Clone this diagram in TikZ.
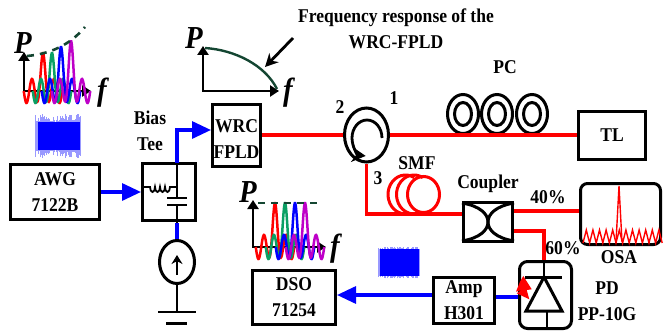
\documentclass[tikz,border=0pt]{standalone}
\usepackage{fontspec}
\setmainfont[FakeStretch=0.9]{Liberation Serif}
\usepackage{xcolor}
\usepackage{tikz}
\usetikzlibrary{arrows.meta,positioning,shapes.geometric}

\definecolor{wavegreen}{RGB}{10,160,100}
\definecolor{wavepurple}{RGB}{190,0,200}
\definecolor{envgreen}{RGB}{20,70,50}

\begin{document}
\begin{tikzpicture}[
  x=1pt, y=1pt,
  box/.style={draw, line width=3pt, align=center, inner sep=0pt,
    font=\fontsize{19.5}{26}\selectfont\bfseries},
  lbl/.style={align=center, inner sep=0pt, font=\fontsize{19.5}{26}\selectfont\bfseries},
  varlbl/.style={inner sep=0pt, font=\fontsize{32}{32}\selectfont\bfseries\itshape},
  ring/.style={draw, ellipse, line width=3pt, inner sep=0pt},
  sig/.style={draw=blue, line width=3.2pt},
  sigarrow/.style={sig, -{Triangle[length=19pt,width=17pt]}},
  fibre/.style={draw=red, line width=3.2pt},
  wire/.style={line width=1.8pt},
  axis/.style={line width=2.6pt, {Triangle[length=9pt,width=11pt]}-{Triangle[length=9pt,width=11pt]}},
  wave/.style={line width=2.5pt, smooth, samples=90, variable=\t, domain=-19.25:19.25},
  envelope/.style={envgreen, line width=2.6pt, dash pattern=on 7pt off 6pt}
]
\useasboundingbox (0,0) rectangle (663,330);

% Transmit side
\node[box, minimum width=89pt, minimum height=55pt] (awg) at (55,138) {AWG\\7122B};
\node[box, right=40pt of awg, minimum width=53pt, minimum height=57pt] (tee) {};
\node[box, right=14pt of tee, yshift=57pt, minimum width=48pt, minimum height=62pt] (wrc) {};
\node[lbl] (wrclbl) at ([yshift=-4pt]wrc.center) {WRC\\FPLD};
\node[ring, below=17pt of tee, xshift=8pt, minimum width=35pt, minimum height=43pt] (src) {};
\node[lbl] (teelbl) at (150,199) {Bias\\Tee};

\coordinate (teetop) at (177,167);
\coordinate (teebot) at (177,107);
\coordinate (gnd) at (177,18);

\draw[sigarrow] (awg) -- (tee);
\draw[sigarrow] (teetop) |- ([yshift=5pt]wrc.west);
\draw[sig] (teebot) -- (src.north);

% Bias tee internals
\draw[wire] ([yshift=5pt]tee.west) -- ++(9,0)
  \foreach \i in {1,...,4}{ arc (180:360:2.5 and 5) } -- (177,143);
\draw[wire] (teetop) -- (177,132);
\draw[wire] (177,125) -- (teebot);
\draw[wire] (167,132) -- (187,132);
\draw[wire] (167,125) -- (187,125);

% Current source and ground
\draw[line width=2pt, -{Stealth[length=9pt,width=11pt]}] (177,55) -- (177,75);
\draw[line width=2.4pt] (src.south) -- (gnd);
\draw[line width=2.4pt] (158,18) -- (196,18);
\draw[line width=3pt] (166,7) -- (187,7);

% Drive signal trace
\pgfmathsetseed{7}
\foreach \x in {35,36,...,80}{
  \pgfmathsetmacro{\h}{14+8*rnd}
  \draw[blue!40, line width=0.8pt] (\x,194-\h) -- (\x,194+\h);
}
\fill[blue] (38,180) rectangle (80,208);

% AWG spectrum
\coordinate (awgtop) at (24,278);
\coordinate (awgorg) at (24,239);
\coordinate (awgend) at (91,239);
\draw[axis] (awgtop) -- (awgorg) -- (awgend);
\foreach \c/\p/\a in {red/43/38, wavegreen/52/38, blue/61/44, wavepurple/71/50}{
  \draw[\c, wave] plot ({\p+\t},{239+12*cos(360*\t/11)+(\a-12)*exp(-(\t/3.2)*(\t/3.2))});
}
\draw[envelope] (27,274) .. controls (50,276) and (70,285) .. (85,303);
\node[varlbl] (awgp) at (23,287) {P};
\node[varlbl] (awgf) at (102,237) {f};
% WRC response
\coordinate (wrctop) at (203,284);
\coordinate (wrcorg) at (203,239);
\coordinate (wrcend) at (279,239);
\draw[axis] (wrctop) -- (wrcorg) -- (wrcend);
\draw[envgreen, line width=2.4pt] (205,282) .. controls (235,280) and (265,265) .. (277,241);
\node[varlbl] (wrcp) at (194,292) {P};
\node[varlbl] (wrcf) at (288,237) {f};

\node[lbl] (resplbl) at (396,301) {Frequency response of the\\WRC-FPLD};
\coordinate (ptrfrom) at (293,292);
\coordinate (ptrto) at (265,263);
\draw[line width=2.8pt, -{Stealth[length=13pt,width=13pt]}] (ptrfrom) -- (ptrto);

% Fibre path
\node[ring, right=81pt of wrc, minimum width=44pt, minimum height=54pt] (circ) {};
\node[box, right=187pt of circ, minimum width=67pt, minimum height=48pt] (tl) {TL};
\node[box, minimum width=49pt, minimum height=39pt] (coupler) at (488,108) {};
\node[box, rounded corners=7pt, minimum width=80pt, minimum height=61pt] (osa) at (620.5,116) {};

\node[ring, minimum width=31pt, minimum height=39pt] (pc1) at (463,216) {};
\node[ring, minimum width=31pt, minimum height=39pt] (pc2) at (497,216) {};
\node[ring, minimum width=31pt, minimum height=39pt] (pc3) at (532,216) {};
\node[ring, minimum width=17pt, minimum height=23pt] (pc1in) at (pc1) {};
\node[ring, minimum width=17pt, minimum height=23pt] (pc2in) at (pc2) {};
\node[ring, minimum width=17pt, minimum height=23pt] (pc3in) at (pc3) {};

\draw[fibre] (wrc) -- (circ);
\draw[fibre] (circ) -- (tl);
\draw[fibre] (circ.south) |- ([yshift=8pt]coupler.west);
\draw[fibre] ([yshift=11pt]coupler.east) -- ([yshift=3pt]osa.west);

% Circulator arrow
\draw[line width=2.8pt, -{Stealth[length=14pt,width=15pt]}] (382,192) arc (0:265:15 and 18);

% Fibre spool
\node[ring, draw=red, minimum width=32pt, minimum height=36pt] (smf) at (423.5,135.5) {};
\draw[fibre, line width=3pt] (405.5,135.5) ++(60:17.5 and 19.5) arc (60:270:17.5 and 19.5);
\draw[fibre, line width=3pt] (414,135.5) ++(60:17.5 and 19.5) arc (60:270:17.5 and 19.5);

% Coupler internals
\draw[line width=3pt] (462,127) .. controls (480,124) and (488,116) .. (488,108)
  .. controls (488,100) and (480,92) .. (462,89);
\draw[line width=3pt] (514,127) .. controls (496,124) and (488,116) .. (488,108)
  .. controls (488,100) and (496,92) .. (514,89);

% OSA trace
\draw[red, line width=1.4pt] (583,87) \foreach \i in {1,...,12}{ -- ++(3.3,13) -- ++(3.3,-13) };
\draw[red, line width=1.4pt] (616,88) -- (619,144) -- (622,88);

% Receive side
\node[box, rounded corners=8pt, minimum width=52pt, minimum height=67pt] (pd) at (545.5,35) {};
\node[box, minimum width=61pt, minimum height=46pt] (amp) at (464,29.5) {Amp\\H301};
\node[box, minimum width=83pt, minimum height=54pt] (dso) at (294,32.5) {DSO\\71254};

\draw[fibre] ([yshift=-9pt]coupler.east) -| ([xshift=-1.5pt]pd.north);
\draw[sigarrow] ([yshift=5.5pt]amp.west) -- ([yshift=2.5pt]dso.east);
\draw[sig] ([yshift=3.5pt]amp.east) -- ([yshift=-2pt]pd.west);

% Photodiode symbol
\draw[line width=2.6pt] ([xshift=-1.5pt]pd.north) -- (544,53);
\draw[line width=3pt] (525,53) -- (562,53);
\draw[line width=3pt] (544,53) -- (526,19) -- (562,19) -- cycle;
\draw[line width=2.6pt] (547,19) -- (547,0);
\fill[red] (523.3,54) -- (531.7,40.7) -- (526.7,40) -- (529.3,30.7) -- (516.7,36.7)
  -- (521.7,40) -- (516,38.3) -- (520,48.3) -- cycle;

% Received signal trace
\foreach \x in {378,379,...,419}{
  \pgfmathsetmacro{\h}{13+3*rnd}
  \draw[blue!40, line width=0.8pt] (\x,67.5-\h) -- (\x,67.5+\h);
}
\fill[blue] (380,54) rectangle (419,81);

% DSO spectrum
\coordinate (dsotop) at (253,130);
\coordinate (dsoorg) at (253,83);
\coordinate (dsoend) at (326,83);
\draw[axis] (dsotop) -- (dsoorg) -- (dsoend);
\foreach \c/\p/\a in {red/275/44, wavegreen/285/44, blue/295/44, wavepurple/305/44}{
  \draw[\c, wave] plot ({\p+\t},{83+12*cos(360*\t/11)+(\a-12)*exp(-(\t/3.2)*(\t/3.2))});
}
\draw[envelope] (258,127) -- (322,127);
\node[varlbl] (dsop) at (248,138) {P};
\node[varlbl] (dsof) at (335,81) {f};

% Labels
\node[lbl] (pclbl) at (505,263) {PC};
\node[lbl] (port1) at (394,232) {1};
\node[lbl] (port2) at (340,223) {2};
\node[lbl] (port3) at (378,152) {3};
\node[lbl] (smflbl) at (417,167) {SMF};
\node[lbl] (couplbl) at (488,146) {Coupler};
\node[lbl] (pct40) at (548,133) {40\%};
\node[lbl] (pct60) at (563,82) {60\%};
\node[lbl] (osalbl) at (619,73) {OSA};
\node[lbl] (pdlbl) at (607,29) {PD\\PP-10G};

\end{tikzpicture}
\end{document}
